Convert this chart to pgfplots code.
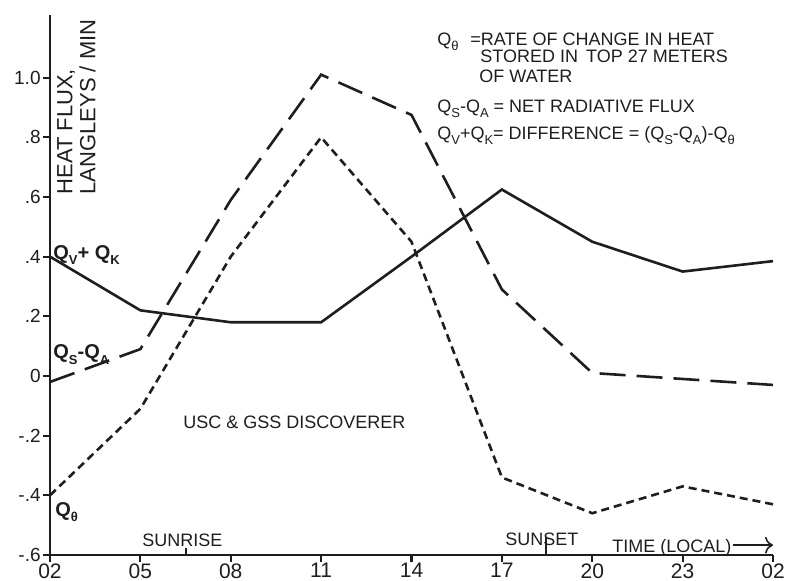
\documentclass[border=0pt]{standalone}
\usepackage{fontspec}
\setmainfont{Liberation Sans}
\usepackage{pgfplots}
\pgfplotsset{compat=1.18}
\usetikzlibrary{arrows.meta}

% lowered small letters for the Q subscripts
\newcommand{\sub}[1]{\raisebox{-0.5ex}{\fontsize{6.5}{7}\selectfont #1}}
\definecolor{ink}{HTML}{1E1E1E}

\begin{document}
\begin{tikzpicture}
\begin{axis}[
  at={(0,0)}, anchor=south west,
  scale only axis, width=361.5pt, height=270pt,
  xmin=0, xmax=8, ymin=-0.6, ymax=1.21,
  axis x line=bottom, axis y line=left,
  axis line style={-, line width=1.2pt, ink},
  xtick={0,1,2,3,4,5,6,7,8},
  xticklabels={02,05,08,11,14,17,20,23,02},
  ytick={-0.6,-0.4,-0.2,0,0.2,0.4,0.6,0.8,1.0},
  yticklabels={-.6,-.4,-.2,0,.2,.4,.6,.8,1.0},
  tick align=outside, major tick length=3.5pt,
  tick style={line width=1.1pt, ink},
  x tick label style={font=\fontsize{10.5}{10.5}\selectfont, inner sep=1pt, yshift=0.5pt, text=ink},
  y tick label style={font=\fontsize{9.5}{9.5}\selectfont, inner sep=1pt, text=ink},
  clip=false,
  font=\fontsize{9}{10}\selectfont,
]
% Q_V + Q_K : difference
\addplot[solid, no marks, line width=1.3pt, ink] coordinates {(0,0.40) (1,0.22) (2,0.18) (3,0.18) (4,0.40) (5,0.625) (6,0.45) (7,0.35) (8,0.385)};
% Q_S - Q_A : net radiative flux
\addplot[no marks, line width=1.3pt, ink, dash pattern=on 13pt off 5.5pt] coordinates {(0,-0.02) (1,0.09) (2,0.59) (3,1.01) (4,0.875) (5,0.29) (6,0.01) (7,-0.01) (8,-0.03)};
% Q_theta : rate of change of stored heat
\addplot[no marks, line width=1.3pt, ink, dash pattern=on 4pt off 2.5pt] coordinates {(0,-0.40) (1,-0.11) (2,0.40) (3,0.80) (4,0.45) (5,-0.34) (6,-0.46) (7,-0.37) (8,-0.43)};

% axis title, written up the left side
\node[rotate=90, anchor=north west, align=left, inner sep=0pt, text=ink,
      font=\fontsize{11}{11.5}\selectfont]
  at (axis cs:0.077,0.607) {HEAT FLUX,\\LANGLEYS / MIN};

% curve labels
\node[anchor=base west, inner sep=0pt, font=\fontsize{10}{10}\selectfont\bfseries, text=ink]
  at (axis cs:0.033,0.39) {Q\sub{V}+ Q\sub{K}};
\node[anchor=base west, inner sep=0pt, font=\fontsize{10}{10}\selectfont\bfseries, text=ink]
  at (axis cs:0.033,0.057) {Q\sub{S}-Q\sub{A}};
\node[anchor=base west, inner sep=0pt, font=\fontsize{10}{10}\selectfont\bfseries, text=ink]
  at (axis cs:0.055,-0.47) {Q\sub{θ}};

\node[anchor=base west, inner sep=0pt, text=ink] at (axis cs:1.472,-0.177) {USC \& GSS DISCOVERER};

% sunrise / sunset markers and time arrow
\draw[ink, line width=1pt] (axis cs:1.505,-0.6) -- (axis cs:1.505,-0.575);
\draw[ink, line width=1pt] (axis cs:5.488,-0.6) -- (axis cs:5.488,-0.54);
\node[anchor=base west, inner sep=0pt, text=ink] at (axis cs:1.018,-0.573) {SUNRISE};
\node[anchor=base west, inner sep=0pt, text=ink] at (axis cs:5.035,-0.567) {SUNSET};
\node[anchor=base west, inner sep=0pt, text=ink] at (axis cs:6.219,-0.593) {TIME (LOCAL)};
\draw[ink, line width=0.8pt, -{To[length=4pt]}] (axis cs:7.557,-0.567) -- (axis cs:8.0,-0.567);

% key
\node[anchor=base west, inner sep=0pt, text=ink] at (axis cs:4.282,1.107) {Q\sub{θ}};
\node[anchor=base west, inner sep=0pt, text=ink] at (axis cs:4.647,1.107) {=RATE OF CHANGE IN HEAT};
\node[anchor=base west, inner sep=0pt, text=ink] at (axis cs:4.758,1.050) {STORED IN\, TOP 27 METERS};
\node[anchor=base west, inner sep=0pt, text=ink] at (axis cs:4.747,0.983) {OF WATER};
\node[anchor=base west, inner sep=0pt, text=ink] at (axis cs:4.282,0.883) {Q\sub{S}-Q\sub{A} = NET RADIATIVE FLUX};
\node[anchor=base west, inner sep=0pt, text=ink] at (axis cs:4.282,0.793) {Q\sub{V}+Q\sub{K}= DIFFERENCE = (Q\sub{S}-Q\sub{A})-Q\sub{θ}};
\end{axis}
\pgfresetboundingbox
\path (-25pt,-13pt) rectangle (367.5pt,277.5pt);
\end{tikzpicture}
\end{document}
